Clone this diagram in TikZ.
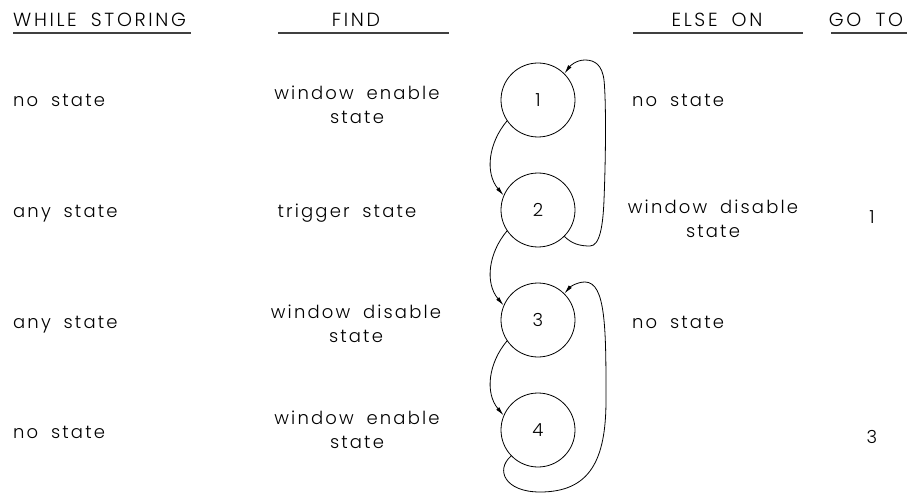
\documentclass[tikz,border=0pt]{standalone}
\usepackage{fontspec}
\setmainfont{Poppins}[UprightFont=* Light, LetterSpace=12, WordSpace=1.8]
\newfontfamily\headfont{Poppins}[UprightFont=* Light, LetterSpace=14, WordSpace=1.8]
\usetikzlibrary{arrows.meta}

\begin{document}
\begin{tikzpicture}[x=1pt,y=1pt,
  every node/.style={font=\fontsize{18}{24}\selectfont,inner sep=0pt},
  state/.style={draw,circle,minimum size=74pt,line width=0.8pt},
  col/.style={anchor=base west},
  mid/.style={anchor=base,align=center},
  head/.style={font=\headfont\fontsize{19}{24}\selectfont},
  arr/.style={-{Latex[length=9pt,width=4pt]},line width=0.8pt},
  rule/.style={line width=1.1pt,draw=black!75}
]
\useasboundingbox (0,0) rectangle (909,-494);

% column heads
\node[col,head] (hws) at (13,-27) {WHILE STORING};
\node[mid,head] (hfind) at (356,-27) {FIND};
\node[mid,head] (helse) at (717,-27) {ELSE ON};
\node[mid,head] (hgo) at (866,-27) {GO TO};
\draw[rule] (13,-33) -- (191,-33);
\draw[rule] (278,-33) -- (449,-33);
\draw[rule] (633,-33) -- (803,-33);
\draw[rule] (831,-33) -- (907,-33);

% states
\node[state] (s1) at (538,-100) {1};
\node[state] (s2) at (538,-210) {2};
\node[state] (s3) at (538,-320) {3};
\node[state] (s4) at (538,-430) {4};

% while storing
\node[col] (w1) at (13,-107) {no state};
\node[col] (w2) at (13,-218) {any state};
\node[col] (w3) at (13,-328) {any state};
\node[col] (w4) at (13,-438) {no state};

% find
\node[mid] (f1) at (357,-124) {window enable\\state};
\node[mid] (f2) at (347,-218) {trigger state};
\node[mid] (f3) at (356,-342) {window disable\\state};
\node[mid] (f4) at (357,-448) {window enable\\state};

% else on
\node[col] (e1) at (632,-107) {no state};
\node[mid] (e2) at (713,-237) {window disable\\state};
\node[col] (e3) at (632,-328) {no state};

% go to
\node[mid] (g2) at (872,-223) {1};
\node[mid] (g4) at (872,-443) {3};

% next state
\draw[arr] (s1.214) to[out=230,in=130] (s2.157);
\draw[arr] (s2.214) to[out=230,in=130] (s3.157);
\draw[arr] (s3.214) to[out=230,in=130] (s4.157);

% else on loops
\draw[arr] (s2.-45) .. controls (572,-244) and (580,-246) .. (590,-246)
  .. controls (600,-246) and (603,-225) .. (604,-200)
  .. controls (606,-150) and (606,-100) .. (604,-80)
  .. controls (602,-65) and (595,-60) .. (585,-60)
  .. controls (576,-60) and (570,-66) .. (s1.45);
\draw[arr] (s4.224) .. controls (495,-470) and (505,-492) .. (540,-492)
  .. controls (590,-492) and (606,-460) .. (606,-400)
  .. controls (606,-330) and (606,-282) .. (585,-282)
  .. controls (577,-282) and (570,-287) .. (s3.45);
\end{tikzpicture}
\end{document}
